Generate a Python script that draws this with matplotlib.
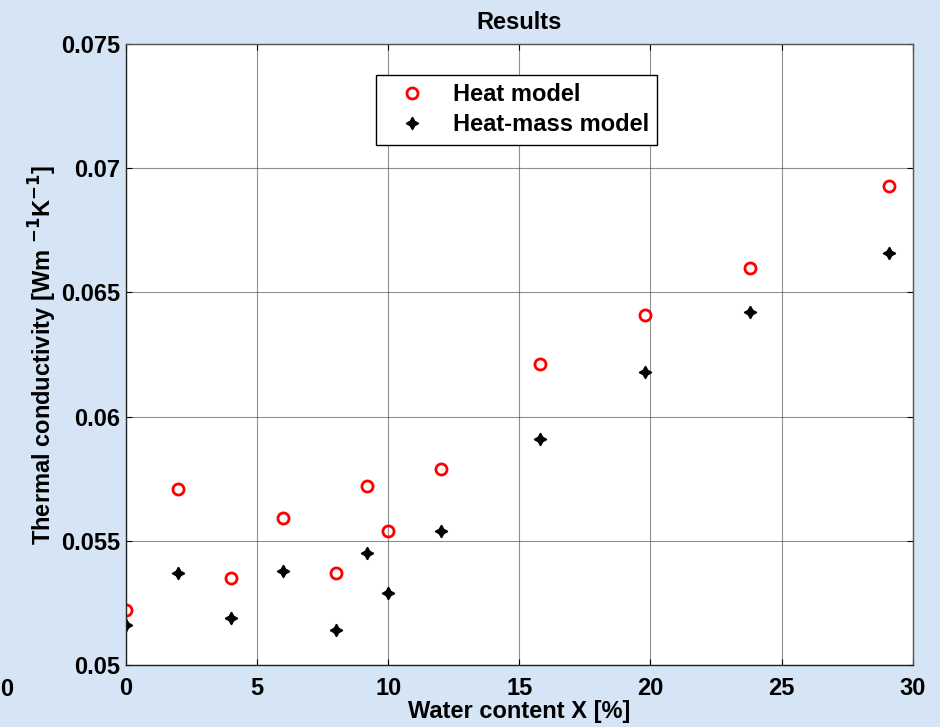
import matplotlib.pyplot as plt
import numpy as np

plt.rcParams['font.family'] = ['Liberation Sans', 'DejaVu Sans']
plt.rcParams['font.weight'] = 'bold'

water = [0, 2, 4, 6, 8, 9.2, 10, 12, 15.8, 19.8, 23.8, 29.1]
heat = [0.0522, 0.0571, 0.0535, 0.0559, 0.0537, 0.0572, 0.0554, 0.0579,
        0.0621, 0.0641, 0.0660, 0.0693]
heat_mass = [0.0516, 0.0537, 0.0519, 0.0538, 0.0514, 0.0545, 0.0529, 0.0554,
             0.0591, 0.0618, 0.0642, 0.0666]

fig = plt.figure(figsize=(9.4, 7.27), dpi=100)
fig.patch.set_facecolor('#d5e5f5')
ax = fig.add_axes([0.134, 0.0853, 0.837, 0.8542])
ax.set_facecolor('white')

ax.plot(water, heat, 'o', color='red', mfc='none', ms=8, mew=2, label='Heat model')
ax.plot(water, heat_mass, ls='none', marker=(4, 1, 0), color='black', ms=9,
        label='Heat-mass model')

ax.set_xlim(0, 30)
ax.set_ylim(0.05, 0.075)
ax.set_xticks(np.arange(0, 31, 5))
ax.set_yticks([0.05, 0.055, 0.06, 0.065, 0.07, 0.075])
ax.set_yticklabels(['0.05', '0.055', '0.06', '0.065', '0.07', '0.075'])
ax.grid(color='#444444', linewidth=0.8, alpha=0.6)
ax.set_axisbelow(True)
ax.tick_params(axis='both', direction='in', length=4, labelsize=17,
               top=True, right=True)
ax.tick_params(axis='x', pad=9)
ax.tick_params(axis='y', pad=4)
for lab in ax.get_xticklabels() + ax.get_yticklabels():
    lab.set_fontweight('bold')
for s in ax.spines.values():
    s.set_color('#555555')
    s.set_linewidth(1)
ax.spines['left'].set_color('#222222')
ax.spines['bottom'].set_color('#222222')

ax.set_title('Results', fontsize=17, fontweight='bold', pad=11)
ax.set_xlabel('Water content X [%]', fontsize=17, fontweight='bold', labelpad=0)
ax.set_ylabel(r'Thermal conductivity [Wm $^{\mathbf{-1}}$K$^{\mathbf{-1}}$]',
              fontsize=17, fontweight='bold', labelpad=2)

leg = ax.legend(loc='upper left', bbox_to_anchor=(0.318, 0.95), fontsize=17,
                fancybox=False, edgecolor='black', framealpha=1,
                borderpad=0.35, handletextpad=0.6, handlelength=2.3,
                labelspacing=0.3, borderaxespad=0)
leg.get_frame().set_linewidth(1)
for t in leg.get_texts():
    t.set_fontweight('bold')

fig.text(0.0, 0.052, '0', fontsize=17, fontweight='bold', ha='left', va='center')

fig.savefig('out.png', dpi=100, facecolor=fig.get_facecolor())
